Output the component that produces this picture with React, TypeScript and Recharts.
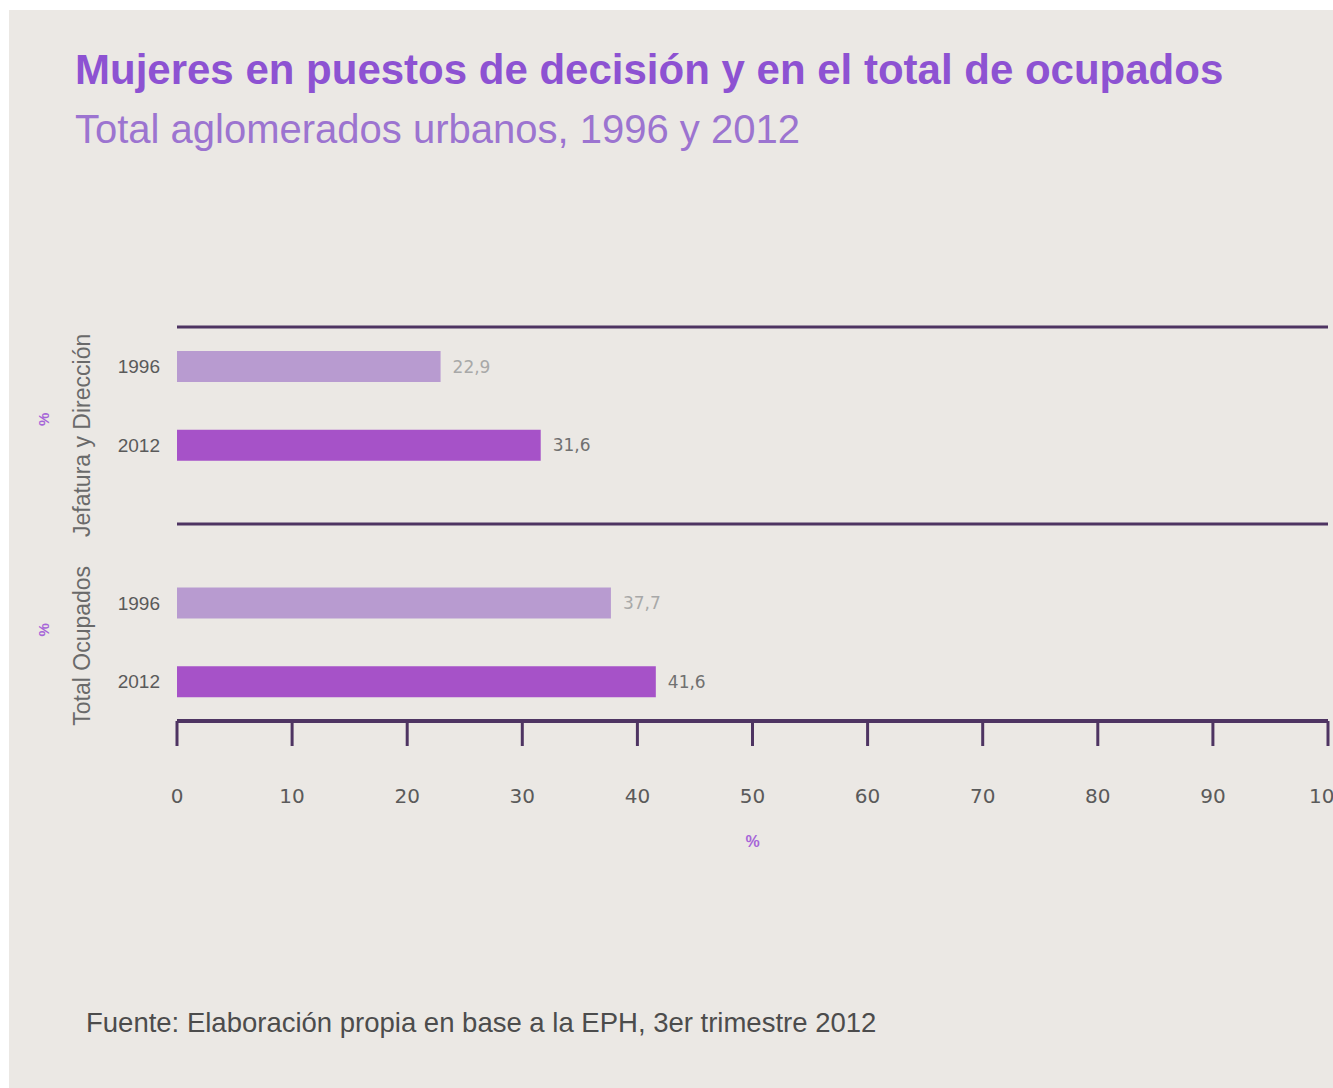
import { BarChart, Bar, XAxis, YAxis, Cell, LabelList, ReferenceLine } from 'recharts';

const GROUPS = ['Jefatura y Dirección', 'Total Ocupados'];
const YEARS = ['1996', '2012'];
const VALUES_1996 = [22.9, 37.7];
const VALUES_2012 = [31.6, 41.6];
const X_TICKS = [0, 10, 20, 30, 40, 50, 60, 70, 80, 90, 100];

const LINE_COLOR = '#4e3462';
const COLOR_1996 = '#b89bd0';
const COLOR_2012 = '#a652c8';
const FONT = "'Liberation Sans', Arial, sans-serif";
const WIDE_FONT = "'DejaVu Sans', Verdana, sans-serif";

// one row per bar, with an empty row between the two groups (where the divider sits)
const rows: any[] = [];
GROUPS.forEach((group, gi) => {
  if (gi > 0) rows.push({ id: 'sep', year: '', group: '', value: null });
  YEARS.forEach((year) => {
    const value = year === '1996' ? VALUES_1996[gi] : VALUES_2012[gi];
    rows.push({
      id: `${group}-${year}`,
      year,
      group,
      value,
      lab1996: year === '1996' ? value : undefined,
      lab2012: year === '2012' ? value : undefined,
    });
  });
});

// vertical centre of each rotated group label, relative to its first bar
const GROUP_LABEL_SHIFT: Record<string, number> = {
  'Jefatura y Dirección': 69,
  'Total Ocupados': 43,
};

const fmt = (v: any) => (v == null ? '' : String(v).replace('.', ','));

function RowTick(props: any) {
  const { x, y, payload } = props;
  const row = rows.find((r) => r.id === payload.value);
  if (!row || !row.year) return null;
  const shift = GROUP_LABEL_SHIFT[row.group] ?? 0;
  const gx = x - 78;
  const gy = y + shift;
  const px = gx - 38;
  const py = gy - 16;
  return (
    <g>
      <text x={x} y={y} dy="0.36em" textAnchor="end" fontSize={19} fill="#5a5a5a" fontFamily={FONT}>
        {row.year}
      </text>
      {row.year === '1996' && (
        <>
          <text
            x={gx}
            y={gy}
            dy="0.36em"
            textAnchor="middle"
            fontSize={23}
            fill="#6a6a6a"
            fontFamily={FONT}
            transform={`rotate(-90, ${gx}, ${gy})`}
          >
            {row.group}
          </text>
          <text
            x={px}
            y={py}
            dy="0.36em"
            textAnchor="middle"
            fontSize={15}
            fontWeight={700}
            fill="#a665d8"
            fontFamily={FONT}
            transform={`rotate(-90, ${px}, ${py})`}
          >
            %
          </text>
        </>
      )}
    </g>
  );
}

export default function App() {
  const firstId = rows[0].id;
  return (
    <div
      style={{
        position: 'absolute',
        left: 9,
        top: 10,
        width: 1324,
        height: 1078,
        overflow: 'hidden',
        background: '#ebe8e4',
        fontFamily: FONT,
      }}
    >
      <div style={{ position: 'absolute', left: 66, top: 39, fontSize: 42, lineHeight: 1, fontWeight: 700, color: '#8d52d2', whiteSpace: 'nowrap' }}>
        Mujeres en puestos de decisión y en el total de ocupados
      </div>
      <div style={{ position: 'absolute', left: 66, top: 99, fontSize: 40, lineHeight: 1, color: '#9c74d0', whiteSpace: 'nowrap' }}>
        Total aglomerados urbanos, 1996 y 2012
      </div>

      <div style={{ position: 'absolute', left: 0, top: 0 }}>
        <BarChart
          width={1324}
          height={880}
          data={rows}
          layout="vertical"
          margin={{ top: 317, right: 5, bottom: 49, left: 0 }}
        >
          <XAxis
            type="number"
            domain={[0, 100]}
            ticks={X_TICKS}
            interval={0}
            height={120}
            tickSize={25}
            tickMargin={43}
            axisLine={{ stroke: LINE_COLOR, strokeWidth: 4 }}
            tickLine={{ stroke: LINE_COLOR, strokeWidth: 3 }}
            tick={{ fontSize: 20, fill: '#5a5a5a', fontFamily: WIDE_FONT }}
            label={{ value: '%', position: 'insideBottom', offset: -6, fontSize: 16, fontWeight: 700, fill: '#a665d8' }}
          />
          <YAxis
            type="category"
            dataKey="id"
            width={168}
            axisLine={false}
            tickLine={false}
            tickSize={8}
            tickMargin={9}
            interval={0}
            tick={<RowTick />}
          />
          <ReferenceLine y={firstId} position="start" stroke={LINE_COLOR} strokeWidth={3} />
          <ReferenceLine y="sep" stroke={LINE_COLOR} strokeWidth={3} />
          <Bar dataKey="value" barSize={31} isAnimationActive={false}>
            {rows.map((r) => (
              <Cell key={r.id} fill={r.year === '1996' ? COLOR_1996 : COLOR_2012} />
            ))}
            <LabelList dataKey="lab1996" position="right" offset={12} fontSize={17} fill="#a8a8a8" fontFamily={WIDE_FONT} formatter={fmt} />
            <LabelList dataKey="lab2012" position="right" offset={12} fontSize={17} fill="#707070" fontFamily={WIDE_FONT} formatter={fmt} />
          </Bar>
        </BarChart>
      </div>

      <div style={{ position: 'absolute', left: 77, top: 999, fontSize: 27.5, lineHeight: 1, color: '#4c4c4c', whiteSpace: 'nowrap' }}>
        Fuente: Elaboración propia en base a la EPH, 3er trimestre 2012
      </div>
    </div>
  );
}
